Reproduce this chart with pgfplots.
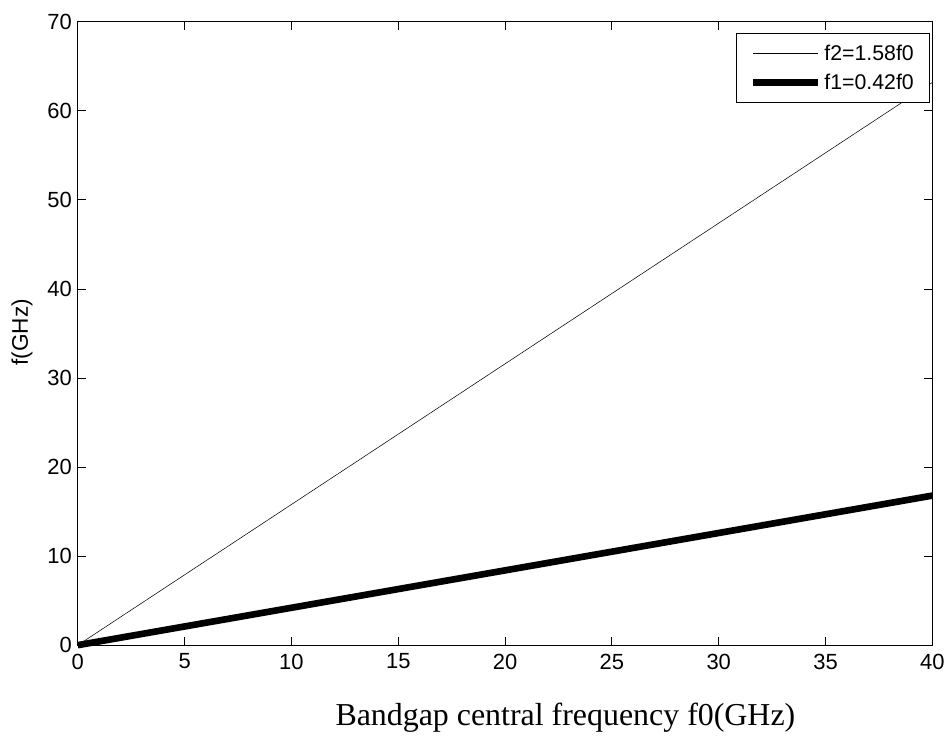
\documentclass[border=0pt]{standalone}
\usepackage{fontspec}
\setmainfont{Liberation Sans}
\newfontfamily\seriffont{Liberation Serif}
\usepackage{pgfplots}
\pgfplotsset{compat=1.18}
\begin{document}
\begin{tikzpicture}
\begin{axis}[
  scale only axis,
  width=642.75pt, height=468.75pt,
  xmin=0, xmax=40, ymin=0, ymax=70,
  xtick={0,5,...,40}, ytick={0,10,...,70},
  tick align=inside,
  major tick length=6pt,
  tick style={black, line width=0.75pt},
  axis line style={line width=0.75pt},
  /pgf/number format/assume math mode=true,
  tick label style={font=\fontsize{16.5}{18}\selectfont},
  xticklabel style={yshift=-3pt},
  yticklabel style={xshift=-1pt},
  xlabel={\seriffont Bandgap central frequency f0(GHz)},
  xlabel style={at={(axis description cs:0.5706,0)}, anchor=base, yshift=-60.75pt, font=\fontsize{24}{26}\selectfont},
  ylabel={f(GHz)},
  ylabel style={at={(axis description cs:-0.0653,0.502)}, anchor=center, font=\fontsize{17}{19}\selectfont},
  legend style={at={(axis description cs:0.9975,0.9825)}, anchor=north east, draw=black, line width=0.75pt, font=\fontsize{16}{18}\selectfont, row sep=5pt, inner xsep=10pt, inner ysep=6.5pt},
  legend cell align=left,
  legend image code/.code={\draw[#1] (0pt,0pt) -- (49pt,0pt);},
  clip=false,
]
\addplot[black, line width=0.4pt] coordinates {(0,0) (10,15.8) (20,31.6) (30,47.4) (40,63.2)};
\addlegendentry{f2=1.58f0\hspace{18pt}}
\addplot[black, line width=5pt] coordinates {(0,0) (10,4.2) (20,8.4) (30,12.6) (40,16.8)};
\addlegendentry{f1=0.42f0\hspace{18pt}}
\end{axis}
\path[use as bounding box] ([shift={(-58.5pt,-66.75pt)}]current axis.south west) rectangle ([shift={(10.5pt,16.5pt)}]current axis.north east);
\end{tikzpicture}
\end{document}
